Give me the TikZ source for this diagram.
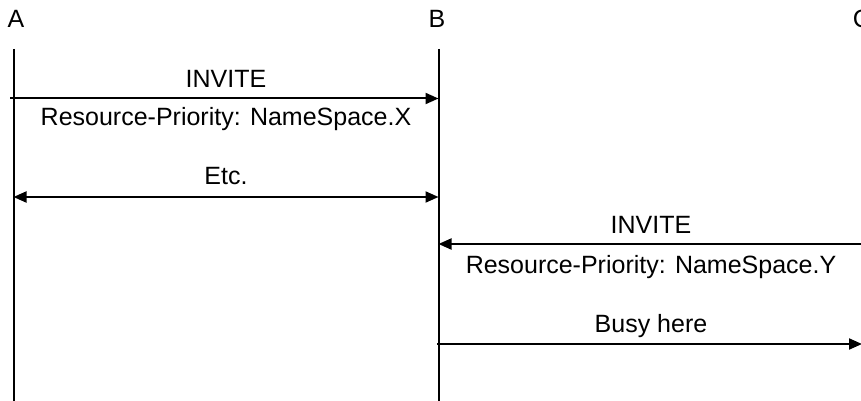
\documentclass[tikz,border=0pt]{standalone}
\usepackage{fontspec}
\setmainfont{Liberation Sans}
\usetikzlibrary{arrows.meta}

\begin{document}
\begin{tikzpicture}[x=1pt,y=-1pt,
    party/.style={anchor=base,font=\fontsize{25}{29}\selectfont},
    lbl/.style={anchor=base,font=\fontsize{25}{29}\selectfont},
    life/.style={line width=2pt},
    msg/.style={line width=2pt,-{Triangle[length=13pt,width=11pt]}},
    both/.style={line width=2pt,{Triangle[length=13pt,width=11pt]}-{Triangle[length=13pt,width=11pt]}}]
  \useasboundingbox (0,0) rectangle (861,401);
  % lifelines
  \foreach \name/\xpos/\lx in {A/13.5/16,B/438.5/437,C/862/862} {
    \node[party] (\name) at (\lx,28) {\name};
    \coordinate (\name top) at (\xpos,49);
    \coordinate (\name bot) at (\xpos,401);
    \draw[life] (\name top) -- (\name bot);
  }
  % message end points
  \coordinate (invX from) at (10,98.5);
  \coordinate (invX to) at (438.5,98.5);
  \coordinate (etc from) at (13.5,197);
  \coordinate (etc to) at (438.5,197);
  \coordinate (invY from) at (870,244);
  \coordinate (invY to) at (438.5,244);
  \coordinate (busy from) at (437,344);
  \coordinate (busy to) at (862,344);
  % messages
  \draw[msg] (invX from) -- (invX to);
  \node[lbl] (invX) at (226,88) {INVITE};
  \node[lbl] (rpX) at (226,125) {Resource-Priority: NameSpace.X};
  \draw[both] (etc from) -- (etc to);
  \node[lbl] (etc) at (226,184) {Etc.};
  \draw[msg] (invY from) -- (invY to);
  \node[lbl] (invY) at (651,233) {INVITE};
  \node[lbl] (rpY) at (651,273) {Resource-Priority: NameSpace.Y};
  \draw[msg] (busy from) -- (busy to);
  \node[lbl] (busy) at (651,332) {Busy here};
\end{tikzpicture}
\end{document}
